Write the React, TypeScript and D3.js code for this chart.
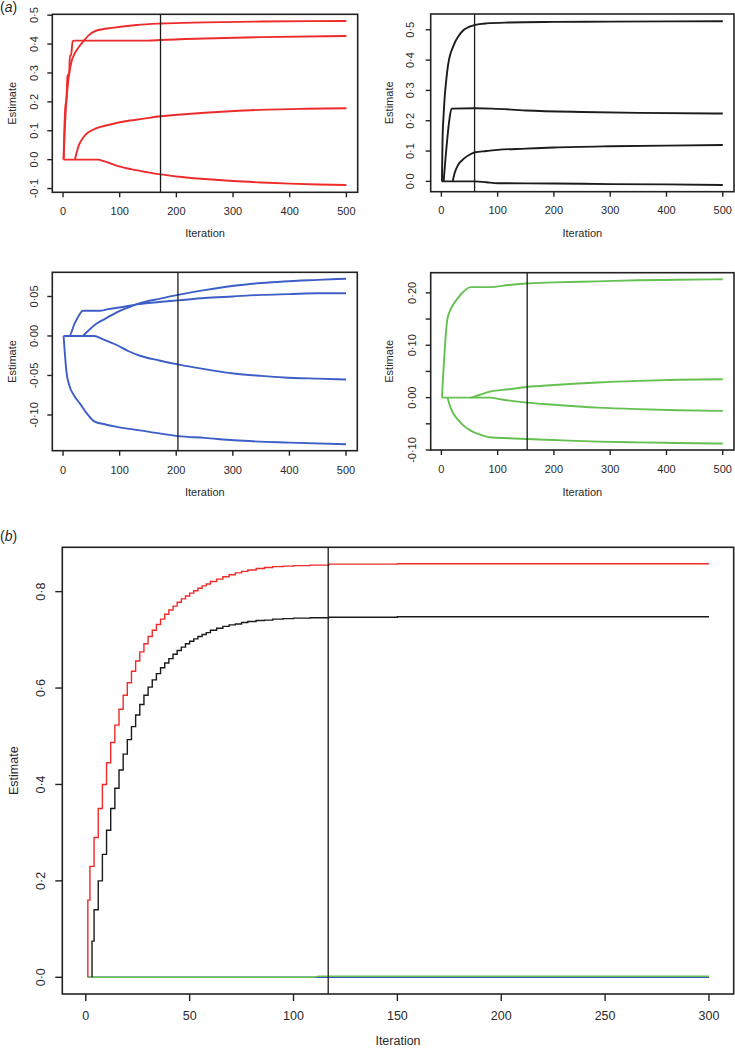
import React from 'react';
import * as d3 from 'd3';

type Pt = [number, number];

// ---------- DATA ----------
const xTicksA = [0, 100, 200, 300, 400, 500];
const xTicksB = [0, 50, 100, 150, 200, 250, 300];

const yTicksP1 = [-0.1, 0, 0.1, 0.2, 0.3, 0.4, 0.5];
const yLabelsP1 = ['-0·1', '0·0', '0·1', '0·2', '0·3', '0·4', '0·5'];
const yTicksP2 = [0, 0.1, 0.2, 0.3, 0.4, 0.5];
const yLabelsP2 = ['0·0', '0·1', '0·2', '0·3', '0·4', '0·5'];
const yTicksP3 = [-0.1, -0.05, 0, 0.05];
const yLabelsP3 = ['-0·10', '-0·05', '0·00', '0·05'];
const yTicksP4 = [-0.1, -0.05, 0, 0.05, 0.1, 0.15, 0.2];
const yLabelsP4 = ['-0·10', '', '0·00', '', '0·10', '', '0·20'];
const yTicksB = [0, 0.2, 0.4, 0.6, 0.8];
const yLabelsB = ['0·0', '0·2', '0·4', '0·6', '0·8'];

// Panel (a) top-left, red
const p1LineA: Pt[] = [[1, 0], [2, 0.08], [4, 0.18], [6, 0.21], [8, 0.29], [11, 0.3], [12, 0.36], [14, 0.36], [17, 0.41], [20, 0.412], [100, 0.412], [150, 0.412], [172, 0.414], [250, 0.419], [350, 0.424], [500, 0.428]];
const p1LineB: Pt[] = [[1, 0], [3, 0.1], [5, 0.18], [8, 0.25], [11, 0.3], [15, 0.34], [20, 0.365], [28, 0.39], [36, 0.41], [45, 0.43], [58, 0.446], [90, 0.457], [130, 0.466], [172, 0.471], [250, 0.475], [350, 0.478], [500, 0.48]];
const p1LineC: Pt[] = [[21, 0], [24, 0.025], [28, 0.05], [35, 0.075], [45, 0.095], [58, 0.108], [80, 0.12], [110, 0.133], [140, 0.141], [172, 0.15], [220, 0.158], [280, 0.166], [360, 0.173], [430, 0.176], [500, 0.178]];
const p1LineD: Pt[] = [[1, 0], [60, 0], [75, -0.007], [93, -0.02], [120, -0.033], [150, -0.044], [172, -0.051], [210, -0.06], [250, -0.067], [300, -0.074], [350, -0.079], [400, -0.083], [450, -0.086], [500, -0.088]];
const p1Cut = 172;

// Panel (a) top-right, black
const p2LineA: Pt[] = [[1, 0], [2, 0.13], [4, 0.22], [6, 0.28], [9, 0.34], [12, 0.385], [16, 0.42], [20, 0.44], [25, 0.462], [30, 0.478], [40, 0.5], [50, 0.51], [60, 0.516], [80, 0.521], [120, 0.524], [200, 0.526], [300, 0.527], [500, 0.528]];
const p2LineB: Pt[] = [[4, 0], [10, 0.13], [14, 0.2], [18, 0.24], [60, 0.241], [90, 0.24], [150, 0.234], [250, 0.229], [350, 0.226], [500, 0.224]];
const p2LineC: Pt[] = [[20, 0], [24, 0.03], [30, 0.055], [40, 0.075], [50, 0.088], [60, 0.096], [80, 0.1], [100, 0.104], [150, 0.108], [200, 0.112], [300, 0.116], [400, 0.118], [500, 0.12]];
const p2LineD: Pt[] = [[1, 0], [60, 0], [80, -0.003], [100, -0.006], [200, -0.007], [300, -0.009], [400, -0.01], [500, -0.012]];
const p2Cut = 59;

// Panel (a) middle-left, blue
const p3LineA: Pt[] = [[1, 0], [11, 0], [20, 0.015], [28, 0.026], [35, 0.032], [65, 0.032], [80, 0.034], [100, 0.036], [130, 0.04], [170, 0.043], [203, 0.045], [250, 0.048], [300, 0.05], [350, 0.052], [400, 0.053], [450, 0.054], [500, 0.054]];
const p3LineB: Pt[] = [[35, 0], [45, 0.007], [60, 0.016], [75, 0.022], [95, 0.03], [115, 0.036], [136, 0.0415], [170, 0.047], [203, 0.052], [250, 0.058], [302, 0.0636], [350, 0.067], [390, 0.069], [450, 0.071], [500, 0.0725]];
const p3LineC: Pt[] = [[1, 0], [55, 0], [70, -0.004], [95, -0.0114], [115, -0.019], [136, -0.025], [170, -0.031], [203, -0.036], [250, -0.042], [302, -0.0475], [350, -0.0505], [390, -0.0525], [450, -0.054], [500, -0.055]];
const p3LineD: Pt[] = [[1, 0], [3, -0.02], [6, -0.045], [11, -0.0623], [20, -0.076], [30, -0.0856], [42, -0.098], [55, -0.108], [75, -0.112], [95, -0.115], [150, -0.121], [203, -0.1267], [250, -0.129], [302, -0.132], [400, -0.135], [500, -0.137]];
const p3Cut = 203;

// Panel (a) middle-right, green
const p4LineA: Pt[] = [[1, 0], [10.5, 0.149], [15, 0.165], [20, 0.176], [30, 0.191], [40, 0.203], [52, 0.211], [86, 0.211], [120, 0.215], [152, 0.218], [200, 0.22], [278, 0.222], [350, 0.224], [420, 0.225], [500, 0.226]];
const p4LineB: Pt[] = [[53, 0], [70, 0.006], [86, 0.0114], [120, 0.016], [152, 0.0203], [200, 0.024], [278, 0.029], [350, 0.032], [420, 0.034], [500, 0.035]];
const p4LineC: Pt[] = [[1, 0], [85, 0], [110, -0.004], [152, -0.0095], [200, -0.0135], [278, -0.019], [350, -0.022], [420, -0.024], [500, -0.0254]];
const p4LineD: Pt[] = [[11, 0], [15, -0.015], [20, -0.028], [30, -0.0425], [40, -0.054], [52, -0.063], [70, -0.071], [86, -0.0756], [120, -0.0775], [152, -0.079], [200, -0.081], [278, -0.084], [350, -0.0855], [420, -0.0866], [500, -0.0876]];
const p4Cut = 152.5;

// Panel (b)
const bRed: Pt[] = [[1, 0], [2, 0.16], [4, 0.23], [6, 0.29], [8, 0.35], [10, 0.4], [12, 0.445], [14, 0.487], [16, 0.523], [18, 0.556], [20, 0.585], [22, 0.611], [24, 0.635], [26, 0.656], [28, 0.675], [30, 0.692], [32, 0.707], [34, 0.72], [36, 0.732], [38, 0.743], [40, 0.753], [42, 0.762], [44, 0.77], [46, 0.778], [48, 0.785], [50, 0.791], [52, 0.797], [54, 0.802], [56, 0.807], [58, 0.812], [60, 0.816], [63, 0.821], [66, 0.826], [69, 0.831], [72, 0.835], [75, 0.839], [78, 0.842], [82, 0.845], [86, 0.848], [90, 0.85], [95, 0.852], [100, 0.853], [108, 0.854], [117, 0.855], [150, 0.857], [200, 0.858], [300, 0.858]];
const bBlack: Pt[] = [[3, 0], [4, 0.075], [6, 0.14], [8, 0.2], [10, 0.255], [12, 0.305], [14, 0.35], [16, 0.392], [18, 0.43], [20, 0.463], [22, 0.493], [24, 0.52], [26, 0.544], [28, 0.566], [30, 0.585], [32, 0.602], [34, 0.617], [36, 0.63], [38, 0.642], [40, 0.652], [42, 0.661], [44, 0.67], [46, 0.678], [48, 0.685], [50, 0.692], [52, 0.697], [54, 0.702], [56, 0.707], [58, 0.711], [60, 0.715], [63, 0.72], [66, 0.724], [69, 0.728], [72, 0.731], [75, 0.733], [78, 0.736], [82, 0.738], [86, 0.74], [90, 0.741], [95, 0.743], [100, 0.744], [108, 0.745], [117, 0.746], [150, 0.747], [200, 0.748], [300, 0.748]];
const bBlue: Pt[] = [[1, 0], [300, 0]];
const bGreen: Pt[] = [[1, 0], [110, 0], [112, 0.0022], [300, 0.0022]];
const bCut = 116.7;

// ---------- LAYOUT ----------
interface Panel {
  left: number; right: number; top: number; bottom: number;
  xDom: [number, number]; yDom: [number, number];
  xTicks: number[]; yTicks: number[]; yLabels: string[];
  xLabelY: number; xTitleY: number; yLabelX: number; yTitleX: number;
  font: number; tick: number; lineW: number; color: string;
  lines: Pt[][]; cut: number;
}

const panelsA: Panel[] = [
  { left: 52.3, right: 357.7, top: 14.3, bottom: 192.3, xDom: [-18.96, 519.96], yDom: [-0.113, 0.503],
    xTicks: xTicksA, yTicks: yTicksP1, yLabels: yLabelsP1, xLabelY: 211, xTitleY: 233, yLabelX: 34.3, yTitleX: 12,
    font: 11, tick: 5, lineW: 1.9, color: '#ee2b2b', lines: [p1LineD, p1LineC, p1LineB, p1LineA], cut: p1Cut },
  { left: 430.7, right: 734, top: 14, bottom: 191.7, xDom: [-18.96, 519.96], yDom: [-0.034, 0.552],
    xTicks: xTicksA, yTicks: yTicksP2, yLabels: yLabelsP2, xLabelY: 209.5, xTitleY: 233.3, yLabelX: 409.5, yTitleX: 389,
    font: 11, tick: 5, lineW: 1.9, color: '#1c1c1c', lines: [p2LineD, p2LineC, p2LineB, p2LineA], cut: p2Cut },
  { left: 52.3, right: 357.3, top: 272.3, bottom: 450.7, xDom: [-18.96, 519.96], yDom: [-0.1452, 0.0806],
    xTicks: xTicksA, yTicks: yTicksP3, yLabels: yLabelsP3, xLabelY: 470, xTitleY: 491.7, yLabelX: 34.3, yTitleX: 12,
    font: 11, tick: 5, lineW: 1.9, color: '#3d5ec6', lines: [p3LineC, p3LineD, p3LineB, p3LineA], cut: p3Cut },
  { left: 430.7, right: 734, top: 272.7, bottom: 450, xDom: [-18.96, 519.96], yDom: [-0.1, 0.2385],
    xTicks: xTicksA, yTicks: yTicksP4, yLabels: yLabelsP4, xLabelY: 468.5, xTitleY: 491.7, yLabelX: 411.5, yTitleX: 389,
    font: 11, tick: 5, lineW: 1.9, color: '#64c050', lines: [p4LineC, p4LineD, p4LineB, p4LineA], cut: p4Cut },
];

const panelB = {
  left: 62.3, right: 733.7, top: 547.3, bottom: 994, xDom: [-11.3, 311.9] as [number, number], yDom: [-0.0347, 0.892] as [number, number],
  xLabelY: 1016, xTitleY: 1041, yLabelX: 40.7, yTitleX: 14, font: 12.5, tick: 7,
};

const FONT = '"Liberation Sans", Arial, Helvetica, sans-serif';
const TXT = '#2a2a2a';

function Frame({ p, x, y, xTicks, yTicks, yLabels }: any) {
  return (
    <g>
      <rect x={p.left} y={p.top} width={p.right - p.left} height={p.bottom - p.top} fill="none" stroke="#222" strokeWidth={1.6} />
      {xTicks.map((t: number) => (
        <g key={'xt' + t}>
          <line x1={x(t)} x2={x(t)} y1={p.bottom} y2={p.bottom + p.tick} stroke="#222" strokeWidth={1.4} />
          <text x={x(t)} y={p.xLabelY} textAnchor="middle" dominantBaseline="central" fontSize={p.font} fill={TXT} fontFamily={FONT}>{t}</text>
        </g>
      ))}
      {yTicks.map((t: number, i: number) => (
        <g key={'yt' + i}>
          <line x1={p.left - p.tick} x2={p.left} y1={y(t)} y2={y(t)} stroke="#222" strokeWidth={1.4} />
          {yLabels[i] ? (
            <text transform={`translate(${p.yLabelX},${y(t)}) rotate(-90)`} textAnchor="middle" dominantBaseline="central" fontSize={p.font} fill={TXT} fontFamily={FONT}>{yLabels[i]}</text>
          ) : null}
        </g>
      ))}
      <text x={(p.left + p.right) / 2} y={p.xTitleY} textAnchor="middle" dominantBaseline="central" fontSize={p.font} fill={TXT} fontFamily={FONT}>Iteration</text>
      <text transform={`translate(${p.yTitleX},${(p.top + p.bottom) / 2}) rotate(-90)`} textAnchor="middle" dominantBaseline="central" fontSize={p.font} fill={TXT} fontFamily={FONT}>Estimate</text>
    </g>
  );
}

export default function App() {
  return (
    <svg width={735} height={1050} style={{ position: 'absolute', left: 0, top: 0, background: '#fff' }}>
      <rect x={0} y={0} width={735} height={1050} fill="#fff" />
      <text x={0} y={7} dominantBaseline="central" fontSize={14} fill={TXT} fontFamily={FONT}>(<tspan fontStyle="italic">a</tspan>)</text>
      <text x={0} y={536} dominantBaseline="central" fontSize={14} fill={TXT} fontFamily={FONT}>(<tspan fontStyle="italic">b</tspan>)</text>
      {panelsA.map((p, i) => {
        const x = d3.scaleLinear().domain(p.xDom).range([p.left, p.right]);
        const y = d3.scaleLinear().domain(p.yDom).range([p.bottom, p.top]);
        const line = d3.line<Pt>().x(d => x(d[0])).y(d => y(d[1])).curve(d3.curveMonotoneX);
        return (
          <g key={i}>
            {p.lines.map((l, j) => (
              <path key={j} d={line(l) || ''} fill="none" stroke={p.color} strokeWidth={p.lineW} strokeLinejoin="round" />
            ))}
            <line x1={x(p.cut)} x2={x(p.cut)} y1={p.top} y2={p.bottom} stroke="#1a1a1a" strokeWidth={1.3} />
            <Frame p={p} x={x} y={y} xTicks={p.xTicks} yTicks={p.yTicks} yLabels={p.yLabels} />
          </g>
        );
      })}
      {(() => {
        const p = panelB;
        const x = d3.scaleLinear().domain(p.xDom).range([p.left, p.right]);
        const y = d3.scaleLinear().domain(p.yDom).range([p.bottom, p.top]);
        const stepLine = d3.line<Pt>().x(d => x(d[0])).y(d => y(d[1])).curve(d3.curveStepBefore);
        const lin = d3.line<Pt>().x(d => x(d[0])).y(d => y(d[1]));
        return (
          <g>
            <path d={lin(bBlue) || ''} fill="none" stroke="#3a56c0" strokeWidth={1.4} />
            <path d={lin(bGreen) || ''} fill="none" stroke="#66c24c" strokeWidth={1.4} />
            <path d={stepLine(bBlack) || ''} fill="none" stroke="#1a1a1a" strokeWidth={1.4} />
            <path d={stepLine(bRed) || ''} fill="none" stroke="#ee2b2b" strokeWidth={1.4} />
            <line x1={x(bCut)} x2={x(bCut)} y1={p.top} y2={p.bottom} stroke="#1a1a1a" strokeWidth={1.3} />
            <Frame p={p} x={x} y={y} xTicks={xTicksB} yTicks={yTicksB} yLabels={yLabelsB} />
          </g>
        );
      })()}
    </svg>
  );
}
